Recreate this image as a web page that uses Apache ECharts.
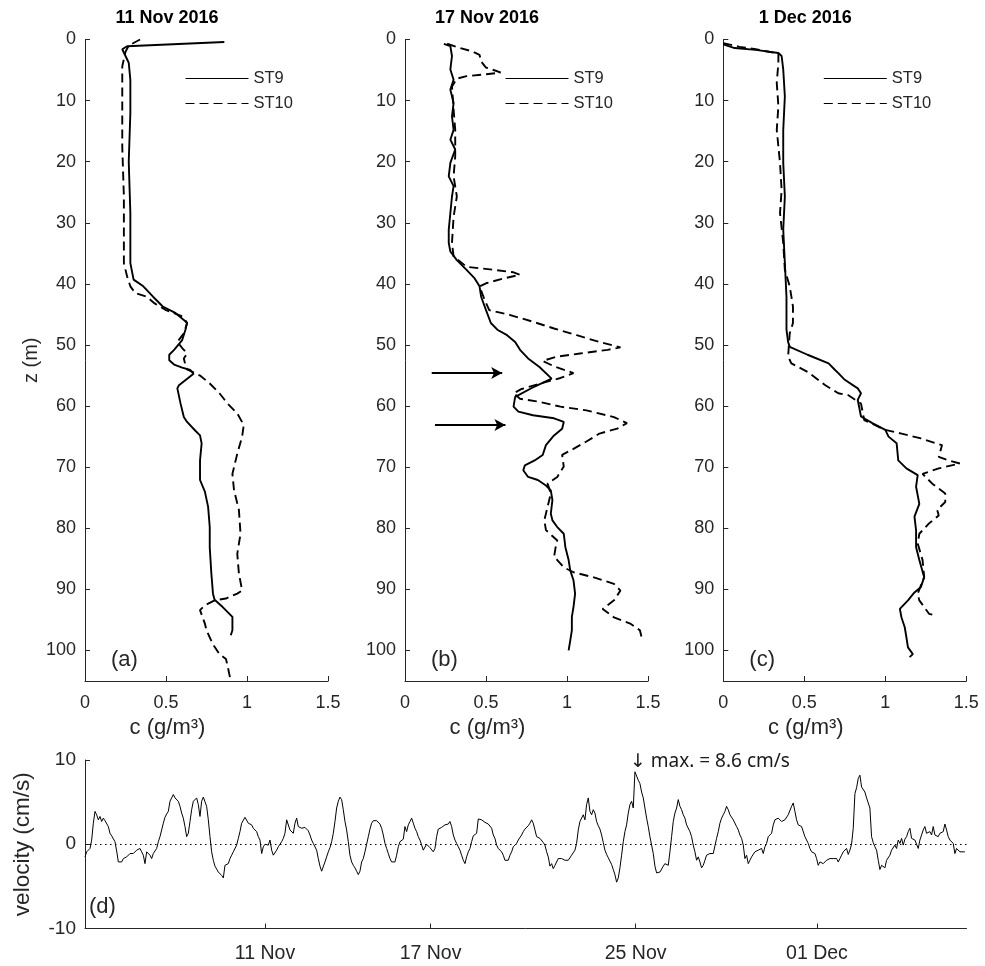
<!DOCTYPE html>
<html><head><meta charset="utf-8">
<script src="https://cdn.jsdelivr.net/npm/echarts@6/dist/echarts.min.js"></script>
<style>html,body{margin:0;padding:0;background:#fff}#c{width:985px;height:966px}</style>
</head><body><div id="c"></div>
<script>
// ---------- data ----------
const panelTitles = ['11 Nov 2016', '17 Nov 2016', '1 Dec 2016'];
const panelLetters = ['(a)', '(b)', '(c)'];
const depthTicks = [0, 10, 20, 30, 40, 50, 60, 70, 80, 90, 100];
const concTicks = [0, 0.5, 1, 1.5];
const seriesNames = ['ST9', 'ST10'];

// profiles: [concentration g/m3, depth m]
const st9_11Nov = [[0.86,0.4],[0.26,1.1],[0.23,1.6],[0.27,3.8],[0.28,6.6],[0.28,12],[0.27,20],[0.28,28.4],[0.28,36.6],[0.30,39.3],[0.36,40.4],[0.42,42.1],[0.48,43.7],[0.56,44.8],[0.61,45.9],[0.63,46.4],[0.62,47.5],[0.60,49.2],[0.55,50.8],[0.52,51.6],[0.52,52.5],[0.55,53.2],[0.60,53.7],[0.65,54.1],[0.67,54.7],[0.58,56.6],[0.57,57.1],[0.59,59.6],[0.61,61.8],[0.63,62.6],[0.68,64],[0.71,64.8],[0.72,66.1],[0.71,68.9],[0.71,72.1],[0.74,74],[0.76,76.5],[0.77,79.8],[0.77,83.1],[0.78,87.4],[0.79,90.7],[0.80,91.7],[0.85,92.9],[0.91,94.5],[0.91,95.6],[0.91,96.7],[0.90,97.5]];
const st10_11Nov = [[0.34,0],[0.27,1],[0.25,2],[0.23,4.4],[0.23,9.3],[0.23,17.5],[0.24,25.7],[0.24,32.2],[0.24,36.6],[0.26,38.8],[0.28,40.4],[0.31,41.5],[0.38,42.1],[0.43,43.2],[0.50,44.3],[0.59,45.2],[0.61,45.5],[0.63,46.4],[0.61,48.1],[0.57,49.5],[0.60,50.5],[0.63,51.4],[0.61,52.2],[0.62,53.3],[0.63,54],[0.71,55],[0.77,56.3],[0.83,57.9],[0.88,59.6],[0.94,61.2],[0.98,63.1],[0.97,65],[0.94,67.8],[0.91,71.1],[0.92,73.8],[0.95,77],[0.96,80.9],[0.94,84.2],[0.95,87.4],[0.97,90.2],[0.94,90.7],[0.87,91.5],[0.80,91.8],[0.74,92.6],[0.71,93.4],[0.74,95.6],[0.75,96.7],[0.79,99],[0.83,100.6],[0.87,101.4],[0.88,102.5],[0.89,103.8],[0.90,105]];
const st9_17Nov = [[0.24,0.7],[0.28,1.1],[0.29,2.7],[0.28,4.9],[0.30,6.6],[0.28,8.2],[0.30,10.4],[0.29,12.6],[0.30,14.8],[0.28,16.4],[0.31,18],[0.28,20.2],[0.27,22.4],[0.30,24],[0.29,25.7],[0.28,28.4],[0.27,31.1],[0.27,33.3],[0.28,34.7],[0.32,36.1],[0.38,37.7],[0.43,39.1],[0.46,40.4],[0.47,42.1],[0.50,44.3],[0.53,46.4],[0.57,47.5],[0.63,48.4],[0.68,49.5],[0.71,50.8],[0.76,52.2],[0.83,53.6],[0.905,55.5],[0.80,56.8],[0.68,58.5],[0.67,60.1],[0.70,60.9],[0.79,61.5],[0.92,62.0],[0.98,62.6],[0.97,63.7],[0.92,64.8],[0.87,66.4],[0.85,68.0],[0.80,68.9],[0.74,69.7],[0.73,70.5],[0.76,71.6],[0.82,72.1],[0.87,73.0],[0.90,73.8],[0.91,75.4],[0.90,77.6],[0.91,78.7],[0.94,79.8],[0.98,80.9],[0.99,83.1],[1.01,85.2],[1.02,86.9],[1.04,88.5],[1.05,90.7],[1.04,92.9],[1.03,94.5],[1.03,96.7],[1.02,98.4],[1.01,100]];
const st10_17Nov = [[0.26,0.7],[0.34,1.4],[0.41,1.9],[0.46,2.5],[0.47,3.6],[0.50,4.6],[0.57,5.2],[0.59,5.4],[0.50,5.7],[0.38,6],[0.32,6.4],[0.29,7.7],[0.30,11.5],[0.31,14.8],[0.31,19.1],[0.30,22.4],[0.32,25.7],[0.30,29],[0.29,33.3],[0.30,35.5],[0.38,37.2],[0.55,37.7],[0.67,38.1],[0.71,38.5],[0.61,39.1],[0.50,39.9],[0.46,40.4],[0.49,42.5],[0.52,44.3],[0.65,45.1],[0.79,46.2],[0.92,47.3],[1.06,48.4],[1.20,49.5],[1.33,50.4],[1.25,50.8],[1.08,51.4],[0.94,51.9],[0.85,52.6],[0.92,53.5],[1.04,54.6],[0.96,55.4],[0.85,56.2],[0.72,57.2],[0.67,57.9],[0.71,58.8],[0.83,59.3],[0.96,60.1],[1.12,60.7],[1.29,61.8],[1.37,62.8],[1.31,63.7],[1.20,64.5],[1.12,65.8],[1.04,67],[0.97,68],[0.98,69.9],[0.94,71.6],[0.88,72.7],[0.90,74.3],[0.87,77.6],[0.86,78.7],[0.87,80.3],[0.94,82],[0.93,83.1],[0.92,84.7],[0.94,85.2],[0.98,86.4],[1.04,87.2],[1.16,88],[1.29,89.1],[1.33,90.2],[1.29,91.8],[1.22,93.2],[1.29,94.6],[1.39,95.6],[1.45,96.7],[1.46,97.8]];
const st9_1Dec = [[0,0.8],[0.07,1.4],[0.20,1.7],[0.34,2.2],[0.36,2.7],[0.37,4.9],[0.38,9.3],[0.37,14.8],[0.37,20.2],[0.38,25.7],[0.37,31.1],[0.38,36.6],[0.39,42.1],[0.39,47.5],[0.40,49.5],[0.41,50.3],[0.52,51.6],[0.65,53],[0.69,54.1],[0.71,54.6],[0.75,55.7],[0.83,57.1],[0.85,57.9],[0.83,59],[0.85,61.7],[0.92,62.8],[1.00,63.9],[1.02,65],[1.07,66.1],[1.08,68.9],[1.13,70.2],[1.20,71.3],[1.19,73.2],[1.21,76],[1.18,78.1],[1.19,80.3],[1.19,83.1],[1.21,85.2],[1.24,88],[1.22,89.6],[1.18,90.5],[1.14,91.8],[1.09,93.2],[1.10,94.6],[1.12,96.2],[1.13,97.8],[1.14,99.5],[1.17,100.6],[1.15,101.1]];
const st10_1Dec = [[0,0.6],[0.1,1.2],[0.2,1.6],[0.34,2.3],[0.34,3.8],[0.33,7.1],[0.34,10.9],[0.33,14.8],[0.35,20.2],[0.36,24.6],[0.35,28.4],[0.37,33.3],[0.38,37.7],[0.41,40.4],[0.43,43.7],[0.43,46.4],[0.41,48.1],[0.40,51.9],[0.42,53],[0.52,54.4],[0.63,56.6],[0.71,57.9],[0.77,58.2],[0.85,59.6],[0.87,62.3],[1.0,63.9],[1.10,64.5],[1.22,65.3],[1.35,66.4],[1.33,68.3],[1.39,68.9],[1.46,69.4],[1.33,70.2],[1.23,71.1],[1.29,72.7],[1.37,74.3],[1.37,75.7],[1.32,77.0],[1.33,77.9],[1.27,79.2],[1.21,80.9],[1.20,82.5],[1.23,85.2],[1.24,88],[1.20,90.7],[1.21,91.8],[1.27,94],[1.31,94.3]];

// arrows in panel (b): [start conc, depth, end conc]
const arrows17Nov = [[0.165, 54.6, 0.60], [0.185, 63.1, 0.62]];

// velocity time series (cm/s), regularly sampled; time in days of November 2016
const velStartDay = 4.478;
const velStepDays = 0.060386;
const velocity = [
-1.5,-0.9,-1.1,-0.5,0.5,2.5,3.9,3.5,2.9,3.3,2.7,3.1,2.8,2.7,2.1,1.3,1.0,0.9,0.3,-0.8,
-2.1,-2.3,-2.1,-1.7,-1.9,-1.5,-1.3,-1.1,-0.9,-1.1,-0.9,-0.7,-0.8,-0.5,-0.9,-1.3,-2.3,-0.9,-0.7,-1.3,
-1.7,-1.1,-1.1,-0.5,0.3,0.9,1.7,2.5,3.2,3.6,3.9,5.1,5.5,5.9,5.5,5.3,5.1,4.5,3.7,3.1,
2.1,0.9,1.3,2.7,4.1,5.1,5.3,5.5,4.7,3.3,5.1,5.6,5.5,4.5,2.9,0.9,-0.9,-1.9,-2.6,-2.8,
-3.3,-3.2,-3.7,-4.0,-2.5,-2.3,-2.3,-1.7,-1.3,-0.9,-0.7,-0.1,0.7,1.5,2.5,2.7,3.2,3.1,2.5,2.7,
2.3,1.9,2.1,1.5,0.9,0.5,-1.1,-0.3,0,0.1,-0.1,0.5,-0.7,-1.3,-1.1,-0.7,-0.3,-0.1,0.3,0.7,
1.3,2.9,2.7,1.7,1.5,1.3,2.5,3.1,2.1,2.3,1.9,2.1,
2.0,1.8,1.6,1.1,0.5,0.1,-0.1,-0.7,-1.7,-2.6,-3.2,-3.0,-2.1,-1.5,-0.9,-0.4,0.3,1.3,2.7,4.3,
5.1,5.6,5.3,4.1,2.7,1.7,0.3,-1.3,-2.1,-2.5,-2.8,-3.2,-3.6,-3.2,-2.1,-1.7,-0.9,0,0.9,1.8,
2.5,2.8,2.9,2.8,2.7,2.4,1.9,1.1,0.1,-0.5,-1.1,-1.7,-2.1,-1.9,-2.1,-1.3,-0.3,0.3,0.4,0.6,
2.1,1.5,2.3,2.7,3.1,2.5,1.9,1.5,0.9,0.5,-0.1,-0.7,-0.5,0,-0.2,-0.4,-0.4,-0.9,-0.5,0.9,
1.8,1.8,2.0,2.2,2.3,2.2,2.4,2.7,2.1,1.1,0.5,0.1,-0.3,-0.7,-1.3,-1.9,-2.3,-1.5,-0.9,-0.5,
0.3,1.0,1.0,1.3,3.0,2.8,2.9,2.9,2.6,2.4,2.4,2.5,1.9,1.1,0.7,-0.1,-0.5,-0.7,-0.9,-1.3,
-1.9,-2.1,-1.9,-1.3,-0.9,-0.3,-0.1,0.1,0.5,0.6,1.1,1.5,
1.8,2.0,2.2,2.5,2.9,2.5,1.7,0.9,1.0,0.7,0.5,0.2,-0.1,-0.9,-1.5,-2.6,-2.3,-2.9,-2.5,-2.6,
-1.7,-1.5,-1.7,-1.6,-1.9,-1.7,-1.9,-1.7,-1.3,-1.1,-0.7,0.1,1.7,2.7,2.9,3.5,2.9,4.7,5.5,3.9,
3.5,4.1,3.7,2.7,2.2,1.8,1.1,0.2,-0.7,-1.2,-1.6,-2.0,-2.4,-3.0,-3.6,-4.5,-4.0,-2.8,-1.3,0.3,
1.5,2.3,3.7,4.7,5.1,4.3,8.6,8.1,7.6,7.2,6.2,5.5,4.3,3.1,2.1,0.9,-0.1,-1.1,-2.6,-3.4,
-3.2,-3.3,-3.2,-2.6,-2.3,-2.1,-2.5,-0.9,0.9,2.7,3.7,4.3,5.3,4.5,4.1,3.5,3.1,2.3,2.1,1.5,
0.9,-0.1,-0.9,-1.9,-1.5,-2.1,-2.8,-2.5,-1.9,-1.3,-1.5,-1.1,-1.2,-1.1,-0.9,0.7,1.5,2.5,3.1,3.5,
3.9,4.5,4.1,3.5,3.7,2.9,2.7,2.1,1.7,1.1,0.7,-0.1,
-1.7,-1.3,-2.3,-1.9,-1.5,-1.3,-0.9,-1.1,-0.7,-0.9,-0.5,-1.1,-0.3,0.1,0.9,1.1,1.3,2.3,2.9,2.7,
3.1,2.9,2.7,2.6,2.9,2.9,3.5,3.7,4.5,4.9,3.9,2.9,2.3,2.3,2.1,1.9,0.9,0.9,0.1,-0.5,
-0.9,-1.1,-1.1,-1.7,-2.5,-2.1,-2.1,-2.3,-2.1,-1.9,-1.7,-1.7,-1.9,-1.7,-1.5,-1.7,-2.1,-1.7,-1.3,-0.9,
-0.7,-0.5,-1.2,-0.7,0,1.9,6.0,6.7,7.8,8.2,6.8,6.6,6.2,5.5,4.9,4.3,0.9,0.2,-0.3,-0.7,
-1.9,-3.0,-2.5,-2.3,-2.8,-1.9,-1.9,-1.3,-0.7,-0.9,-0.1,-0.5,0.5,0.1,0.7,-0.1,0.6,0.9,1.5,1.9,
0.7,0.9,0.5,0.5,-0.5,0.5,1.1,1.7,2.1,1.3,1.1,1.5,1.1,2.1,1.1,1.1,0.9,1.3,1.3,1.5,
2.4,1.7,0.9,0.5,0.3,0.1,-1.1,-0.5,-0.7,-0.9,-0.7,-0.9,-0.9
];
const velAxisStart = 4.478, velAxisEnd = 36.42;
const velTickDays = [11, 17, 24.43, 31];
const velTickLabels = ['11 Nov', '17 Nov', '25 Nov', '01 Dec'];
const velTicks = [-10, 0, 10];
const maxLabel = '↓ max. = 8.6 cm/s';

// ---------- chart ----------
const FONT = "'Liberation Sans', Arial, Helvetica, sans-serif";
const TXT = '#262626';
const chart = echarts.init(document.getElementById('c'), null, {renderer: 'canvas'});

const gridLefts = [85, 405, 723.3];
const profiles = [[st9_11Nov, st10_11Nov], [st9_17Nov, st10_17Nov], [st9_1Dec, st10_1Dec]];

const grids = gridLefts.map(l => ({left: l, top: 39.5, width: 243, height: 641.5}));
grids.push({left: 85, top: 760, width: 881.5, height: 168.5});

const axisLine = {show: true, onZero: false, lineStyle: {color: TXT, width: 1}};
const tick = {show: true, inside: true, length: 5, lineStyle: {color: TXT, width: 1}};

const xAxes = [], yAxes = [], series = [];
for (let i = 0; i < 3; i++) {
  xAxes.push({
    gridIndex: i, type: 'value', min: 0, max: 1.5, interval: 0.5,
    axisLine, axisTick: tick, splitLine: {show: false},
    axisLabel: {margin: 13, fontSize: 18, color: TXT, fontFamily: FONT},
    name: 'c (g/m³)', nameLocation: 'middle', nameGap: 36,
    nameTextStyle: {fontSize: 22, color: TXT, fontFamily: FONT, padding: [0, 78, 0, 0]}
  });
  yAxes.push({
    gridIndex: i, type: 'value', inverse: true, min: 0, max: 105,
    axisLine, splitLine: {show: false},
    axisTick: Object.assign({customValues: depthTicks}, tick),
    axisLabel: {customValues: depthTicks, margin: 9, fontSize: 18, color: TXT, fontFamily: FONT},
    name: i === 0 ? 'z (m)' : '', nameLocation: 'middle', nameGap: 44,
    nameTextStyle: {fontSize: 20, color: TXT, fontFamily: FONT}
  });
  profiles[i].forEach((d, k) => {
    series.push({
      name: seriesNames[k], type: 'line', xAxisIndex: i, yAxisIndex: i, data: d,
      symbol: 'none', animation: false, z: k === 0 ? 3 : 2,
      itemStyle: {color: '#000'},
      lineStyle: {color: '#000', width: 1.9, type: k === 0 ? 'solid' : [9, 5]}
    });
  });
}
// arrows in (b)
series.push({
  type: 'line', xAxisIndex: 1, yAxisIndex: 1, data: [], animation: false,
  markLine: {
    silent: true, symbol: ['none', 'arrow'], symbolSize: [9, 11],
    lineStyle: {color: '#000', width: 2, type: 'solid'}, label: {show: false},
    data: arrows17Nov.map(a => [{coord: [a[0], a[1]]}, {coord: [a[2], a[1]]}])
  }
});

// velocity panel
xAxes.push({
  gridIndex: 3, type: 'value', min: velAxisStart, max: velAxisEnd,
  axisLine, splitLine: {show: false},
  axisTick: Object.assign({customValues: velTickDays}, tick),
  axisLabel: {
    customValues: velTickDays, margin: 15, fontSize: 19.5, color: TXT, fontFamily: FONT,
    formatter: v => {
      let best = 0;
      velTickDays.forEach((d, j) => { if (Math.abs(d - v) < Math.abs(velTickDays[best] - v)) best = j; });
      return velTickLabels[best];
    }
  }
});
yAxes.push({
  gridIndex: 3, type: 'value', min: -10, max: 10, interval: 10,
  axisLine, splitLine: {show: false},
  axisTick: Object.assign({customValues: velTicks}, tick),
  axisLabel: {customValues: velTicks, margin: 9, fontSize: 19, color: TXT, fontFamily: FONT},
  name: 'velocity (cm/s)', nameLocation: 'middle', nameGap: 51,
  nameTextStyle: {fontSize: 22.5, color: TXT, fontFamily: FONT}
});
const velData = velocity.map((v, i) => [velStartDay + i * velStepDays, v]);
const peakIdx = velocity.indexOf(Math.max(...velocity));
series.push({
  name: 'velocity', type: 'line', xAxisIndex: 3, yAxisIndex: 3, data: velData,
  symbol: 'none', animation: false,
  lineStyle: {color: '#000', width: 1},
  markLine: {
    silent: true, symbol: 'none', animation: false, label: {show: false},
    lineStyle: {color: '#000', width: 1, type: [1.5, 3.5]},
    data: [{yAxis: 0}]
  },
  markPoint: {
    silent: true, symbol: 'circle', symbolSize: 0, animation: false,
    data: [{coord: velData[peakIdx]}],
    label: {show: true, formatter: maxLabel, position: [-5, -20], align: 'left', verticalAlign: 'top',
      fontSize: 19, color: '#1a1a1a', fontFamily: "'Noto Sans', 'DejaVu Sans', sans-serif"}
  }
});

const legends = gridLefts.map(l => ({
  left: l + 100, top: 70, orient: 'vertical', itemWidth: 63, itemHeight: 14, itemGap: 8,
  selectedMode: false, data: seriesNames,
  lineStyle: {width: 1},
  itemStyle: {color: 'rgba(0,0,0,0)', borderWidth: 0, opacity: 0},
  textStyle: {fontSize: 16.5, color: TXT, fontFamily: FONT}, padding: 0
}));

const graphic = [];
panelTitles.forEach((t, i) => graphic.push({
  type: 'text', x: gridLefts[i] + 82, y: 18,
  style: {text: t, font: "bold 18px " + FONT, fill: '#000', align: 'center', verticalAlign: 'middle'}
}));
panelLetters.forEach((t, i) => graphic.push({
  type: 'text', x: gridLefts[i] + 26, y: 660,
  style: {text: t, font: "22px " + FONT, fill: TXT, align: 'left', verticalAlign: 'middle'}
}));
graphic.push({type: 'text', x: 89, y: 907,
  style: {text: '(d)', font: "22px " + FONT, fill: TXT, align: 'left', verticalAlign: 'middle'}});

chart.setOption({
  animation: false,
  backgroundColor: '#fff',
  grid: grids, xAxis: xAxes, yAxis: yAxes, series, legend: legends, graphic
});
</script></body></html>
